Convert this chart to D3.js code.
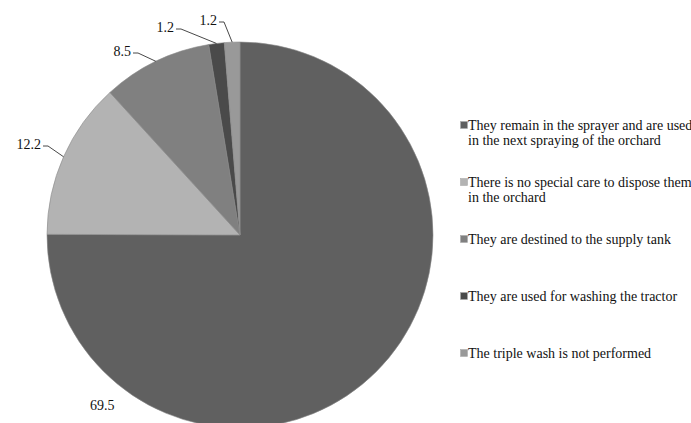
<!DOCTYPE html>
<html><head><meta charset="utf-8">
<script src="https://cdn.jsdelivr.net/npm/d3@7"></script>
<style>body{margin:0;background:#fff}svg{display:block}</style>
</head><body>
<script>
const categories = [
  "They remain in the sprayer and are used|in the next spraying of the orchard",
  "There is no special care to dispose them|in the orchard",
  "They are destined to the supply tank",
  "They are used for washing the tractor",
  "The triple wash is not performed"
];
const values = [69.5, 12.2, 8.5, 1.2, 1.2];
const valueLabels = ["69.5", "12.2", "8.5", "1.2", "1.2"];

const colors = ["#606060", "#b3b3b3", "#808080", "#4a4a4a", "#999999"];
// label text end positions (layout): [x of text end, baseline y]
const labelPos = [null, [41, 149], [131, 56], [174, 32], [217, 25]];
const FONT = '"Liberation Serif"';

const W = 691, H = 423;
const svg = d3.select("body").append("svg").attr("width", W).attr("height", H);
const cx = 240, cy = 235, R = 193;

const pie = d3.pie().sort(null).value(d => d)(values);
const arc = d3.arc().innerRadius(0).outerRadius(R);
const g = svg.append("g").attr("transform", `translate(${cx},${cy})`);
g.selectAll("path").data(pie).join("path")
  .attr("d", arc).attr("fill", (d, i) => colors[i])
  .attr("stroke", "#8a8a8a").attr("stroke-width", 0.6);

pie.forEach((d, i) => {
  const a = (d.startAngle + d.endAngle) / 2;
  if (i === 0) {
    svg.append("text").attr("x", 90).attr("y", 410).style("font-family", FONT)
      .attr("font-size", 14).attr("fill", "#111").text(valueLabels[i]);
    return;
  }
  const ex = cx + R * Math.sin(a), ey = cy - R * Math.cos(a);
  const [lx, ly] = labelPos[i];
  svg.append("text").attr("x", lx).attr("y", ly).attr("text-anchor", "end").style("font-family", FONT)
    .attr("font-size", 14).attr("fill", "#111").text(valueLabels[i]);
  const y0 = ly - 3;
  svg.append("polyline")
    .attr("points", `${lx + 2},${y0} ${lx + 7},${y0} ${ex},${ey}`)
    .attr("fill", "none").attr("stroke", "#333").attr("stroke-width", 0.9);
});

const legendY = [125, 182, 239, 296, 353];
categories.forEach((c, i) => {
  const lg = svg.append("g");
  lg.append("rect").attr("x", 460.5).attr("y", legendY[i] - 3.5).attr("width", 7).attr("height", 7)
    .attr("fill", colors[i]).attr("stroke", "#aaa").attr("stroke-width", 0.6);
  const lines = c.split("|");
  lines.forEach((t, j) => {
    lg.append("text").attr("x", 468).attr("y", legendY[i] + 4.5 + j * 15).style("font-family", FONT)
      .attr("font-size", 14).attr("fill", "#111").text(t);
  });
});
</script>
</body></html>
